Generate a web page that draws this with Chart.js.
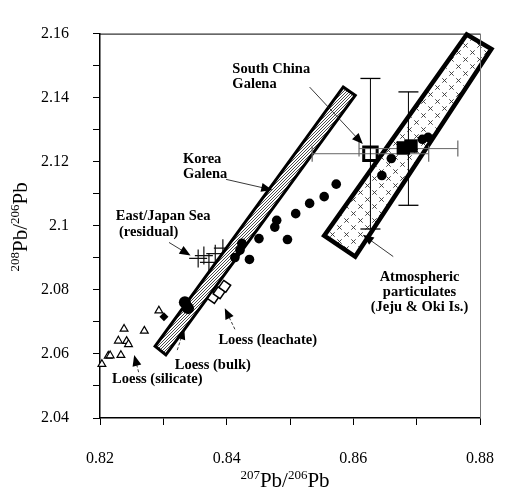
<!DOCTYPE html>
<html>
<head>
<meta charset="utf-8">
<script src="https://cdn.jsdelivr.net/npm/chart.js@4.4.1/dist/chart.umd.min.js"></script>
<style>
  html, body { margin: 0; padding: 0; background: #fff; }
</style>
</head>
<body>
<canvas id="c" width="518" height="491"></canvas>
<script>
/* ---------- AXES ---------- */
const xMajor = [0.82, 0.84, 0.86, 0.88];
const yMajor = [2.04, 2.06, 2.08, 2.10, 2.12, 2.14, 2.16];

/* ---------- SAMPLES ---------- */
// East/Japan Sea (residual) - crosses
const seaX = [0.8355, 0.8364, 0.8372, 0.8382, 0.8394];
const seaY = [2.0898, 2.0907, 2.0886, 2.0913, 2.0930];

// Loess (silicate) - open triangles
const silicateX = [0.8203, 0.8213, 0.8216, 0.8233, 0.8229, 0.8238, 0.8242, 0.8245, 0.8270, 0.8293];
const silicateY = [2.0568, 2.0594, 2.0595, 2.0596, 2.0641, 2.0678, 2.0640, 2.0630, 2.0672, 2.0735];

// Loess (leachate) - open squares
const leachateX = [0.8379, 0.8388, 0.8397];
const leachateY = [2.0776, 2.0791, 2.0811];

// Loess (bulk) - filled
const bulkX = [0.8334, 0.8339];
const bulkY = [2.0761, 2.0743];
const bulkSmallX = [0.8301];
const bulkSmallY = [2.0716];

// Atmospheric particulates - filled circles
const atmX = [0.8709, 0.8718, 0.8660, 0.8645, 0.8573, 0.8554, 0.8531, 0.8509, 0.8479, 0.8476,
              0.8496, 0.8451, 0.8424, 0.8421, 0.8413, 0.8436];
const atmY = [2.1270, 2.1276, 2.1210, 2.1157, 2.1130, 2.1091, 2.1070, 2.1038, 2.1017, 2.0996,
              2.0957, 2.0960, 2.0945, 2.0924, 2.0901, 2.0895];

// South China Galena (open square) and filled square, with error bars
const chinaX = [0.8627], chinaY = [2.1225];
const chinaXErr = [0.0092], chinaYErr = [0.0235];
const filledX = [0.8679, 0.8691], filledY = [2.1243, 2.1249];
const filledCX = [0.8687], filledCY = [2.1241];
const filledXErr = [0.0078], filledYErr = [0.0177];

/* ---------- FIELDS ---------- */
const koreaBandX = [0.8584, 0.8603, 0.8304, 0.8287];
const koreaBandY = [2.1433, 2.1407, 2.0597, 2.0624];
const atmBandX = [0.8779, 0.8818, 0.8603, 0.8554];
const atmBandY = [2.1597, 2.1552, 2.0904, 2.0969];

/* ---------- NOTES ---------- */
const notes = [
  { text: 'South China', x: 0.8409, y: 2.1490, align: 'left' },
  { text: 'Galena', x: 0.8409, y: 2.1442, align: 'left' },
  { text: 'Korea', x: 0.8331, y: 2.1207, align: 'left' },
  { text: 'Galena', x: 0.8331, y: 2.1160, align: 'left' },
  { text: 'East/Japan Sea', x: 0.8225, y: 2.1029, align: 'left' },
  { text: '(residual)', x: 0.8230, y: 2.0981, align: 'left' },
  { text: 'Atmospheric', x: 0.87045, y: 2.0838, align: 'center' },
  { text: 'particulates', x: 0.87045, y: 2.0793, align: 'center' },
  { text: '(Jeju & Oki Is.)', x: 0.87045, y: 2.0746, align: 'center' },
  { text: 'Loess (leachate)', x: 0.8387, y: 2.0642, align: 'left' },
  { text: 'Loess (bulk)', x: 0.8318, y: 2.0564, align: 'left' },
  { text: 'Loess (silicate)', x: 0.8219, y: 2.0520, align: 'left' }
];
const arrows = [
  { from: [0.8531, 2.1433], to: [0.8615, 2.1255], dash: false },
  { from: [0.8399, 2.1145], to: [0.8472, 2.1112], dash: false },
  { from: [0.8309, 2.0948], to: [0.8343, 2.0907], dash: false },
  { from: [0.8663, 2.0904], to: [0.8615, 2.0972], dash: false },
  { from: [0.8413, 2.0677], to: [0.8397, 2.0743], dash: true },
  { from: [0.8322, 2.0612], to: [0.8333, 2.0680], dash: true },
  { from: [0.8261, 2.0543], to: [0.8254, 2.0597], dash: true }
];

const pts = (xs, ys) => xs.map((x, i) => ({ x, y: ys[i] }));
const r2 = v => Math.round(v * 100) / 100;
const step = (a, b, s) => { const out = []; for (let v = a; v <= b + 1e-9; v += s) out.push(r2(v)); return out; };

/* ---------- PATTERNS ---------- */
function stripes() {
  const c = document.createElement('canvas'); c.width = 3; c.height = 3;
  const g = c.getContext('2d');
  g.fillStyle = '#fff'; g.fillRect(0, 0, 3, 3);
  g.strokeStyle = '#333'; g.lineWidth = 0.9;
  g.beginPath();
  g.moveTo(-1, 4); g.lineTo(4, -1);
  g.moveTo(-1, 1); g.lineTo(1, -1);
  g.moveTo(2, 4); g.lineTo(4, 2);
  g.stroke();
  return g.createPattern(c, 'repeat');
}
function crosses() {
  const c = document.createElement('canvas'); c.width = 14; c.height = 14;
  const g = c.getContext('2d');
  g.fillStyle = '#fff'; g.fillRect(0, 0, 14, 14);
  g.strokeStyle = '#333'; g.lineWidth = 0.9;
  [[3.5, 3.5], [10.5, 10.5]].forEach(([cx, cy]) => {
    g.beginPath();
    g.moveTo(cx - 2.2, cy - 2.2); g.lineTo(cx + 2.2, cy + 2.2);
    g.moveTo(cx + 2.2, cy - 2.2); g.lineTo(cx - 2.2, cy + 2.2);
    g.stroke();
  });
  return g.createPattern(c, 'repeat');
}

/* ---------- ERROR BAR DATASETS ---------- */
function vBar(cx, cy, e) {
  return { data: [{ x: cx, y: cy - e }, { x: cx, y: cy + e }], showLine: true, borderColor: '#000',
    borderWidth: 1, pointStyle: 'line', pointRadius: 10, pointBorderWidth: 1.3, pointBorderColor: '#000', order: 20, clip: false };
}
function hBar(cx, cy, e) {
  return { data: [{ x: cx - e, y: cy }, { x: cx + e, y: cy }], showLine: true, borderColor: '#666',
    borderWidth: 1, pointStyle: 'line', pointRotation: 90, pointRadius: 8, pointBorderWidth: 1.2, pointBorderColor: '#666', order: 20, clip: false };
}

/* ---------- PLUGIN: fields, notes, frame, titles ---------- */
const serif = '"Liberation Serif", "Times New Roman", serif';
const extras = {
  id: 'extras',
  afterDatasetDraw(chart, args) {
    if (args.index !== 0) return;
    const { ctx, scales: { x, y } } = chart;
    const poly = (xs, ys, fill, lw) => {
      ctx.save();
      ctx.beginPath();
      xs.forEach((v, i) => {
        const px = x.getPixelForValue(v), py = y.getPixelForValue(ys[i]);
        i ? ctx.lineTo(px, py) : ctx.moveTo(px, py);
      });
      ctx.closePath();
      ctx.fillStyle = fill; ctx.fill();
      ctx.lineWidth = lw; ctx.lineJoin = 'miter'; ctx.strokeStyle = '#000'; ctx.stroke();
      ctx.restore();
    };
    poly(koreaBandX, koreaBandY, stripes(), 3);
    poly(atmBandX, atmBandY, crosses(), 4.5);
  },
  afterDatasetsDraw(chart) {
    const { ctx, scales: { x, y } } = chart;
    // arrows
    arrows.forEach(a => {
      const x0 = x.getPixelForValue(a.from[0]), y0 = y.getPixelForValue(a.from[1]);
      const x1 = x.getPixelForValue(a.to[0]), y1 = y.getPixelForValue(a.to[1]);
      const ang = Math.atan2(y1 - y0, x1 - x0);
      ctx.save();
      ctx.strokeStyle = '#222'; ctx.lineWidth = 0.9;
      if (a.dash) ctx.setLineDash([3, 2]);
      ctx.beginPath(); ctx.moveTo(x0, y0);
      ctx.lineTo(x1 - Math.cos(ang) * 8, y1 - Math.sin(ang) * 8); ctx.stroke();
      ctx.setLineDash([]);
      ctx.fillStyle = '#000';
      ctx.beginPath();
      ctx.moveTo(x1, y1);
      ctx.lineTo(x1 - Math.cos(ang) * 11 + Math.sin(ang) * 4.5, y1 - Math.sin(ang) * 11 - Math.cos(ang) * 4.5);
      ctx.lineTo(x1 - Math.cos(ang) * 11 - Math.sin(ang) * 4.5, y1 - Math.sin(ang) * 11 + Math.cos(ang) * 4.5);
      ctx.closePath(); ctx.fill();
      ctx.restore();
    });
    // notes
    ctx.save();
    ctx.font = 'bold 14.5px ' + serif;
    ctx.fillStyle = '#000'; ctx.textBaseline = 'middle';
    notes.forEach(n => {
      ctx.textAlign = n.align;
      ctx.fillText(n.text, x.getPixelForValue(n.x), y.getPixelForValue(n.y));
    });
    ctx.restore();
  },
  afterDraw(chart) {
    const { ctx, chartArea: a } = chart;
    ctx.save();
    ctx.strokeStyle = '#000'; ctx.lineWidth = 1;
    ctx.beginPath(); ctx.moveTo(a.left, a.top + 0.5); ctx.lineTo(a.right, a.top + 0.5); ctx.stroke();
    ctx.strokeStyle = '#777';
    ctx.beginPath(); ctx.moveTo(a.right + 0.5, a.top); ctx.lineTo(a.right + 0.5, a.bottom); ctx.stroke();
    // axis titles with superscripts
    const parts = [['207', 13, -8], ['Pb', 21, 0], ['/', 21, 0], ['206', 13, -8], ['Pb', 21, 0]];
    const drawTitle = (ps, cx, base) => {
      let w = 0;
      ps.forEach(p => { ctx.font = p[1] + 'px ' + serif; w += ctx.measureText(p[0]).width; });
      let px = cx - w / 2;
      ctx.textAlign = 'left'; ctx.textBaseline = 'alphabetic'; ctx.fillStyle = '#000';
      ps.forEach(p => { ctx.font = p[1] + 'px ' + serif; ctx.fillText(p[0], px, base + p[2]); px += ctx.measureText(p[0]).width; });
    };
    drawTitle(parts, (a.left + a.right) / 2 - 5, 487);
    ctx.translate(26.5, (a.top + a.bottom) / 2 + 1);
    ctx.rotate(-Math.PI / 2);
    const yParts = [['208', 13, -8], ['Pb', 21, 0], ['/', 21, 0], ['206', 13, -8], ['Pb', 21, 0]];
    drawTitle(yParts, 0, 0);
    ctx.restore();
  }
};

/* ---------- CHART ---------- */
new Chart(document.getElementById('c'), {
  type: 'scatter',
  data: {
    datasets: [
      { label: 'East/Japan Sea', data: pts(seaX, seaY), pointStyle: 'cross', pointRadius: 9,
        borderColor: '#111', borderWidth: 1.2, order: 100, clip: false },
      { label: 'Loess (silicate)', data: pts(silicateX, silicateY), pointStyle: 'triangle', pointRadius: 4.5,
        backgroundColor: '#fff', borderColor: '#000', borderWidth: 1.2, order: 50, clip: false },
      { label: 'Loess (leachate)', data: pts(leachateX, leachateY), pointStyle: 'rect', pointRotation: 35, pointRadius: 6,
        backgroundColor: '#fff', borderColor: '#000', borderWidth: 1.5, order: 40, clip: false },
      { label: 'Atmospheric', data: pts(atmX, atmY), pointStyle: 'circle', pointRadius: 4.8,
        backgroundColor: '#000', borderColor: '#000', borderWidth: 0, order: 30, clip: false },
      { label: 'Loess (bulk)', data: pts(bulkX, bulkY), pointStyle: 'circle', pointRadius: 6,
        backgroundColor: '#000', borderColor: '#000', borderWidth: 0, order: 30, clip: false },
      { label: 'Loess (bulk) small', data: pts(bulkSmallX, bulkSmallY), pointStyle: 'rectRot', pointRadius: 4.5,
        backgroundColor: '#000', borderColor: '#000', borderWidth: 0, order: 30, clip: false },
      vBar(chinaX[0], chinaY[0], chinaYErr[0]),
      hBar(chinaX[0], chinaY[0], chinaXErr[0]),
      vBar(filledCX[0], filledCY[0], filledYErr[0]),
      hBar(filledCX[0], filledCY[0], filledXErr[0]),
      { label: 'South China Galena', data: pts(chinaX, chinaY), pointStyle: 'rect', pointRadius: 9.5,
        backgroundColor: '#fff', borderColor: '#000', borderWidth: 3, order: 25, clip: false },
      { label: 'Filled square', data: pts(filledX, filledY), pointStyle: 'rect', pointRadius: 9.5,
        backgroundColor: '#000', borderColor: '#000', borderWidth: 0, order: 10, clip: false }
    ]
  },
  options: {
    responsive: false,
    animation: false,
    layout: { padding: { left: 0, right: 15, top: 15, bottom: 0 } },
    plugins: { legend: { display: false }, tooltip: { enabled: false } },
    scales: {
      x: {
        type: 'linear', min: 0.82, max: 0.88,
        afterBuildTicks: s => { s.ticks = step(0.82, 0.88, 0.01).map(v => ({ value: v })); },
        afterFit: s => { s.height = 73; },
        ticks: {
          autoSkip: false, maxRotation: 0, padding: 24, color: '#000',
          font: { family: serif, size: 16 },
          callback: v => xMajor.includes(r2(v)) ? r2(v).toFixed(2) : ''
        },
        grid: { drawOnChartArea: false, tickLength: 7, color: '#000' },
        border: { color: '#000', width: 1.5 }
      },
      y: {
        type: 'linear', min: 2.04, max: 2.16,
        afterBuildTicks: s => { s.ticks = step(2.04, 2.16, 0.01).map(v => ({ value: v })); },
        afterFit: s => { s.width = 100; },
        ticks: {
          autoSkip: false, padding: 24, color: '#000',
          font: { family: serif, size: 16 },
          callback: v => yMajor.includes(r2(v)) ? String(r2(v)) : ''
        },
        grid: { drawOnChartArea: false, tickLength: 7, color: '#000' },
        border: { color: '#000', width: 1.5 }
      }
    }
  },
  plugins: [extras]
});
</script>
</body>
</html>
